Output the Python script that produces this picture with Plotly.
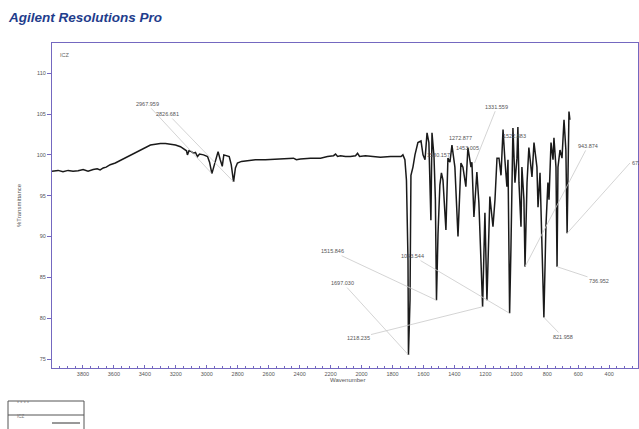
import plotly.graph_objects as go

# ---------------- data ----------------
wavenumber = [
    4000, 3961, 3929, 3896, 3864, 3831, 3799, 3767, 3734, 3708, 3689, 3669, 3650, 3624,
    3591, 3559, 3527, 3494, 3462, 3429, 3397, 3364, 3332, 3300, 3267, 3235, 3202, 3170,
    3144, 3131, 3125, 3115, 3099, 3086, 3073, 3060, 3047, 3021, 2995, 2982, 2967, 2950,
    2927, 2913, 2900, 2890, 2874, 2855, 2842, 2827, 2815, 2802, 2776, 2737, 2686, 2621,
    2557, 2492, 2440, 2421, 2395, 2330, 2265, 2220, 2181, 2168, 2155, 2136, 2104, 2072,
    2039, 2026, 2013, 1975, 1929, 1878, 1813, 1768, 1745, 1733, 1720, 1710, 1700, 1697,
    1687, 1681, 1668, 1655, 1636, 1616, 1603, 1590, 1577, 1565, 1558, 1552, 1545, 1532,
    1523, 1516, 1506, 1494, 1484, 1474, 1455, 1442, 1429, 1416, 1397, 1377, 1358, 1345,
    1326, 1313, 1293, 1287, 1274, 1255, 1242, 1229, 1218, 1203, 1190, 1177, 1171, 1151,
    1138, 1125, 1112, 1099, 1086, 1074, 1061, 1054, 1048, 1043.5, 1035, 1028, 1022, 1009,
    996, 990, 983, 970, 964, 951, 944, 931, 919, 899, 886, 867, 860, 847,
    835, 822, 809, 796, 789, 776, 763, 757, 744, 737, 731, 718, 705, 692,
    680, 672, 660, 654,
]
transmittance = [
    98.0, 98.1, 97.95, 98.1, 98.0, 98.05, 98.2, 98.0, 98.2, 98.3, 98.15, 98.4, 98.5, 98.8,
    99.0, 99.3, 99.6, 99.9, 100.3, 100.6, 100.9, 101.2, 101.3, 101.4, 101.4, 101.3, 101.2, 101.0,
    100.7, 100.5, 100.0, 100.5, 100.4, 100.2, 100.3, 99.8, 100.1, 100.0, 99.8, 99.1, 97.7, 99.0,
    100.4, 99.4, 98.6, 100.0, 99.9, 99.8, 98.8, 96.7, 98.4, 99.0, 99.2, 99.3, 99.4, 99.4,
    99.5, 99.6, 99.6, 99.4, 99.5, 99.6, 99.6, 99.8, 99.9, 100.1, 99.8, 99.9, 99.8, 99.8,
    99.9, 100.2, 99.8, 99.9, 99.8, 99.7, 99.8, 99.8, 99.8, 100.0, 99.4, 96.9, 87.1, 75.5,
    82.2, 97.5, 98.5, 100.0, 101.5, 101.7, 100.0, 99.4, 102.7, 101.5, 96.9, 92.0, 102.7, 99.8,
    94.5, 82.2, 90.4, 96.3, 97.8, 96.9, 90.8, 99.6, 99.1, 101.2, 98.5, 90.0, 99.0, 98.5,
    96.1, 100.9, 98.5, 99.1, 92.4, 97.9, 94.1, 87.1, 81.4, 92.9, 82.2, 90.8, 94.9, 91.2,
    94.5, 99.6, 99.6, 97.5, 103.1, 99.4, 96.1, 99.4, 90.8, 80.6, 88.4, 97.3, 103.3, 96.6,
    99.6, 103.4, 96.6, 91.2, 98.5, 94.5, 86.3, 96.6, 100.9, 97.3, 101.5, 98.5, 93.6, 97.8,
    90.4, 80.1, 91.2, 96.6, 94.5, 101.5, 99.4, 102.1, 98.5, 86.3, 98.5, 100.6, 99.6, 104.3,
    100.6, 90.4, 105.3, 104.3,
]

# peak labels: text, peak wavenumber, peak %T, label wavenumber, label %T
peak_text = ["2967.959", "2826.681", "1697.030", "1515.846", "1218.235", "1043.544",
             "821.958", "736.952", "943.874", "1331.559"]
peak_x = [2967, 2827, 1697, 1516, 1218, 1043.5, 822, 737, 944, 1270]
peak_y = [97.7, 96.7, 75.5, 82.2, 81.4, 80.6, 80.1, 86.3, 86.3, 99.0]
label_x = [3386, 3251, 2120, 2191, 2023, 1668, 699, 466, 537, 1125]
label_y = [106.25, 105.0, 84.3, 88.2, 77.6, 87.6, 77.7, 84.6, 101.1, 105.9]

# labels without visible leader lines
plain_text = ["1272.877", "1453.005", "1580.157", "1522.883"]
plain_x = [1358, 1313, 1506, 1009]
plain_y = [102.1, 100.9, 100.0, 102.3]

x_ticks = [3800, 3600, 3400, 3200, 3000, 2800, 2600, 2400, 2200, 2000, 1800, 1600,
           1400, 1200, 1000, 800, 600, 400]
y_ticks = [75, 80, 85, 90, 95, 100, 105, 110]

# ---------------- figure ----------------
W, H = 639, 429
# plot area in page pixels: left 52, right 638, top 43, bottom 368
ML, MT = 52, 43
MR = W - 638
MB = H - 368
PW, PH = 638 - 52, 368 - 43


def px(xp):
    return (xp - 52) / PW


def py(yp):
    return (368 - yp) / PH


AX = "#7468c0"
FONT = "Liberation Sans, Arial, sans-serif"

fig = go.Figure()
fig.add_trace(go.Scatter(x=wavenumber, y=transmittance, mode="lines",
                         line=dict(color="#1a1a1a", width=1.5), showlegend=False,
                         hoverinfo="skip"))

annotations = []
for t, x0, y0, lx, ly in zip(peak_text, peak_x, peak_y, label_x, label_y):
    annotations.append(dict(x=x0, y=y0, ax=lx, ay=ly, axref="x", ayref="y", xref="x", yref="y",
                            text=t, showarrow=True, arrowhead=0, arrowwidth=0.8,
                            arrowcolor="#c9c9c9", standoff=0, startstandoff=0,
                            font=dict(size=5.5, color="#555", family=FONT)))
# cut-off label at the right edge
annotations.append(dict(x=672, y=90.4, ax=266, ay=99.0, axref="x", ayref="y", xref="x", yref="y",
                        text="672.210", xanchor="left", showarrow=True, arrowhead=0,
                        arrowwidth=0.8, arrowcolor="#c9c9c9", standoff=0, startstandoff=0,
                        font=dict(size=5.5, color="#555", family=FONT)))
for t, x0, y0 in zip(plain_text, plain_x, plain_y):
    annotations.append(dict(x=x0, y=y0, xref="x", yref="y", text=t, showarrow=False,
                            font=dict(size=5.5, color="#555", family=FONT)))

annotations += [
    dict(x=px(58), y=py(50), xref="paper", yref="paper", text="ICZ", showarrow=False,
         xanchor="left", font=dict(size=5.5, color="#666", family=FONT)),
    dict(x=px(347), y=py(385), xref="paper", yref="paper", text="Wavenumber",
         showarrow=False, font=dict(size=6, color="#555", family=FONT)),
    dict(x=px(14), y=py(205), xref="paper", yref="paper", text="%Transmittance",
         showarrow=False, textangle=-90, font=dict(size=6, color="#555", family=FONT)),
    dict(x=px(15), y=py(408), xref="paper", yref="paper", text="* * * *", showarrow=False,
         xanchor="left", font=dict(size=5, color="#777", family=FONT)),
    dict(x=px(15), y=py(421), xref="paper", yref="paper", text="ICZ", showarrow=False,
         xanchor="left", font=dict(size=4.5, color="#777", family=FONT)),
]

shapes = [
    dict(type="rect", xref="paper", yref="paper", x0=px(8), x1=px(84), y0=py(440), y1=py(401),
         line=dict(color="#555", width=1)),
    dict(type="line", xref="paper", yref="paper", x0=px(8), x1=px(84), y0=py(415), y1=py(415),
         line=dict(color="#555", width=1)),
    dict(type="line", xref="paper", yref="paper", x0=px(52), x1=px(80), y0=py(423), y1=py(423),
         line=dict(color="#333", width=1)),
]

fig.update_layout(
    width=W, height=H,
    margin=dict(l=ML, r=MR, t=MT, b=MB),
    paper_bgcolor="white", plot_bgcolor="white",
    title=dict(text="<b><i>Agilent Resolutions Pro</i></b>", x=9 / W, xref="container",
               xanchor="left", y=1 - 17 / H, yref="container", yanchor="middle",
               font=dict(size=13.5, color="#1f3d8c", family=FONT)),
    annotations=annotations, shapes=shapes,
    font=dict(family=FONT),
)
fig.update_xaxes(range=[4000, 214], autorange=False, tickvals=x_ticks,
                 ticktext=[str(v) for v in x_ticks], showgrid=False, zeroline=False,
                 showline=True, mirror=True, linecolor=AX, linewidth=1,
                 ticks="inside", ticklen=3, tickcolor=AX, tickwidth=1,
                 tickfont=dict(size=5.5, color="#555", family=FONT),
                 minor=dict(dtick=50, tick0=0, ticks="inside", ticklen=2, tickcolor=AX))
fig.update_yaxes(range=[73.9, 113.7], autorange=False, tickvals=y_ticks,
                 ticktext=[str(v) for v in y_ticks], showgrid=False, zeroline=False,
                 showline=True, mirror=True, linecolor=AX, linewidth=1,
                 ticks="outside", ticklen=4, tickcolor=AX, tickwidth=1,
                 tickfont=dict(size=5.5, color="#555", family=FONT))

fig.write_html(
    "out.html",
    config={"displayModeBar": False},
    post_script="document.body.style.margin='0';document.body.style.overflow='hidden';",
)
